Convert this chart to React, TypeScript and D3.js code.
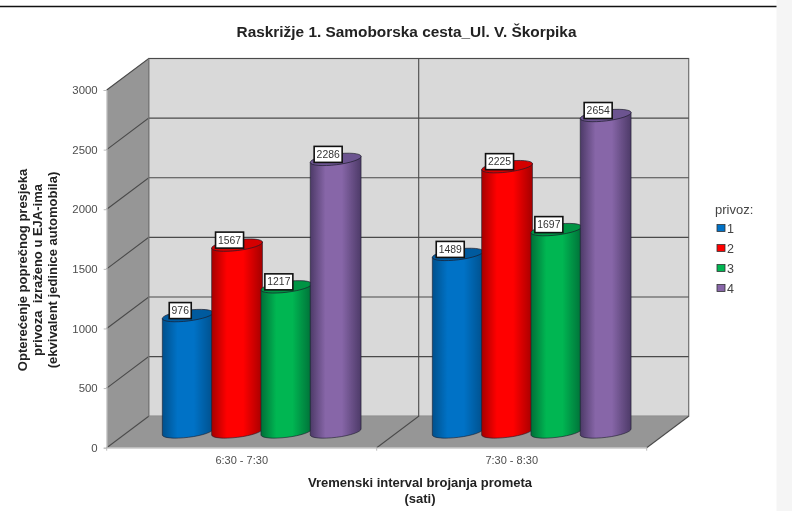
import React, { useEffect, useRef } from "react";
import * as d3 from "d3";

const categories = ["6:30 - 7:30", "7:30 - 8:30"];
const seriesNames = ["1", "2", "3", "4"];
const values1 = [976, 1489];
const values2 = [1567, 2225];
const values3 = [1217, 1697];
const values4 = [2286, 2654];
const allValues = [values1, values2, values3, values4];
const yTicks = [0, 500, 1000, 1500, 2000, 2500, 3000];
const yTitleLines = [
  "Opterećenje poprečnog presjeka",
  "privoza  izraženo u EJA-ima",
  "(ekvivalent jedinice automobila)",
];
const xTitleLines = ["Vremenski interval brojanja prometa", "(sati)"];
const title = "Raskrižje 1. Samoborska cesta_Ul. V. Škorpika";

const sideColors = ["#00508c", "#a50000", "#006f38", "#4d3a68"];
const midColors = ["#0072c6", "#ff0000", "#00b652", "#8766a8"];
const topColors = ["#005a9e", "#d40000", "#009444", "#6c5490"];

const FONT = "'Liberation Sans', Arial, sans-serif";

const App: React.FC = () => {
  const ref = useRef<SVGSVGElement>(null);

  useEffect(() => {
    if (!ref.current) return;
    const svg = d3.select(ref.current);
    svg.selectAll("*").remove();

    // 3d box: front plane plus a fixed depth offset to the back wall
    const depthX = 42;
    const depthY = -31.5;
    const left = 106.7;
    const right = 646.7;

    const y = d3.scaleLinear().domain([0, 3000]).range([447.7, 90]);
    const x0 = d3.scaleBand().domain(categories).range([left, right]);
    const x1 = d3
      .scaleBand()
      .domain(seriesNames)
      .range([0, x0.bandwidth()])
      .paddingInner(0)
      .paddingOuter(0.738);

    const rows = categories.flatMap((c, ci) =>
      seriesNames.map((s, si) => ({ cat: c, series: s, si, value: allValues[si][ci] }))
    );

    svg.append("rect").attr("x", 776.5).attr("y", 0).attr("width", 16).attr("height", 511).attr("fill", "#f5f5f5");
    svg.append("line").attr("x1", 0).attr("x2", 776.5).attr("y1", 6.5).attr("y2", 6.5).attr("stroke", "#111").attr("stroke-width", 1.3);

    const defs = svg.append("defs");
    seriesNames.forEach((s, i) => {
      const g = defs.append("linearGradient").attr("id", `cyl${s}`).attr("x1", 0).attr("x2", 1).attr("y1", 0).attr("y2", 0);
      g.append("stop").attr("offset", "0%").attr("stop-color", sideColors[i]);
      g.append("stop").attr("offset", "30%").attr("stop-color", midColors[i]);
      g.append("stop").attr("offset", "62%").attr("stop-color", midColors[i]);
      g.append("stop").attr("offset", "100%").attr("stop-color", sideColors[i]);
    });

    // walls and floor
    const y0 = y(0);
    const y3 = y(3000);
    svg.append("rect")
      .attr("x", left + depthX).attr("y", y3 + depthY)
      .attr("width", right - left).attr("height", y0 - y3)
      .attr("fill", "#d9d9d9").attr("stroke", "#6e6e6e").attr("stroke-width", 1.2);
    svg.append("path")
      .attr("d", `M${left},${y0}L${left},${y3}L${left + depthX},${y3 + depthY}L${left + depthX},${y0 + depthY}Z`)
      .attr("fill", "#969696");
    svg.append("path")
      .attr("d", `M${left},${y0}L${left + depthX},${y0 + depthY}L${right + depthX},${y0 + depthY}L${right},${y0}Z`)
      .attr("fill", "#969696");

    // gridlines run along the side wall and back wall
    const grid = svg.append("g").attr("fill", "none").attr("stroke", "#4a4a4a").attr("stroke-width", 1.1);
    yTicks.forEach((t) => {
      const py = y(t);
      grid.append("path").attr(
        "d",
        t === 0
          ? `M${left},${py}L${left + depthX},${py + depthY}`
          : `M${left},${py}L${left + depthX},${py + depthY}L${right + depthX},${py + depthY}`
      );
    });
    grid.append("path").attr("d", `M${left + depthX},${y3 + depthY}V${y0 + depthY}`).attr("stroke", "#777");
    const midX = x0(categories[1]) || 0;
    grid.append("path").attr("d", `M${midX},${y0}L${midX + depthX},${y0 + depthY}V${y3 + depthY}`);
    grid.append("path").attr("d", `M${right},${y0}L${right + depthX},${y0 + depthY}`);

    // axes, front plane
    const axisY = svg.append("g").attr("transform", `translate(${left},0)`).call(
      d3.axisLeft(y).tickValues(yTicks).tickSize(3).tickPadding(6).tickFormat(d3.format("d") as any)
    );
    axisY.select(".domain").attr("stroke", "#bcbcbc");
    axisY.selectAll("line").attr("stroke", "#bcbcbc");
    axisY.selectAll("text").attr("font-family", FONT).attr("font-size", 11.4).attr("fill", "#4d4d4d");

    const axisX = svg.append("g").attr("transform", `translate(0,${y0})`).call(
      d3.axisBottom(x0).tickSize(0).tickPadding(9)
    );
    axisX.select(".domain").attr("stroke", "#c8c8c8").attr("stroke-width", 1.2);
    axisX.selectAll("text").attr("font-family", FONT).attr("font-size", 11).attr("fill", "#4d4d4d");
    [left, midX, right].forEach((tx) => {
      svg.append("line").attr("x1", tx).attr("x2", tx).attr("y1", y0).attr("y2", y0 + 3).attr("stroke", "#bcbcbc");
    });

    // cylinders stand at mid depth
    const rx = 25.6;
    const ry = 5.4;
    const tilt = 7;
    const ex = rx * Math.cos((tilt * Math.PI) / 180);
    const ey = rx * Math.sin((tilt * Math.PI) / 180);
    const cx = (d: (typeof rows)[number]) =>
      (x0(d.cat) || 0) + (x1(d.series) || 0) + x1.bandwidth() / 2 + depthX / 2 - 1;
    const base = (v: number) => y(v) + depthY / 2;

    const bars = svg.selectAll("g.cyl").data(rows).enter().append("g").attr("class", "cyl");
    bars.append("path")
      .attr("d", (d) => {
        const c = cx(d);
        const t = base(d.value);
        const b = base(0);
        return `M${c - ex},${t + ey}L${c + ex},${t - ey}L${c + ex},${b - ey}A${rx},${ry} ${-tilt} 0 1 ${c - ex},${b + ey}Z`;
      })
      .attr("fill", (d) => `url(#cyl${d.series})`)
      .attr("stroke", "#1c1c2a")
      .attr("stroke-opacity", 0.65)
      .attr("stroke-width", 0.9);
    bars.append("ellipse")
      .attr("rx", rx)
      .attr("ry", ry)
      .attr("transform", (d) => `translate(${cx(d)},${base(d.value)}) rotate(${-tilt})`)
      .attr("fill", (d) => topColors[d.si])
      .attr("stroke", "#1c1c2a")
      .attr("stroke-opacity", 0.75)
      .attr("stroke-width", 0.9);

    // value labels
    const labels = svg.selectAll("g.lab").data(rows).enter().append("g").attr("class", "lab")
      .attr("transform", (d) => `translate(${cx(d) - 7.5},${base(d.value) - 5})`);
    const boxW = (d: (typeof rows)[number]) => (String(d.value).length > 3 ? 28 : 22);
    labels.append("rect")
      .attr("x", (d) => -boxW(d) / 2).attr("y", -8)
      .attr("width", boxW).attr("height", 16)
      .attr("fill", "#fff").attr("stroke", "#111").attr("stroke-width", 1.6);
    labels.append("text")
      .attr("text-anchor", "middle").attr("y", 3.6)
      .attr("font-family", FONT).attr("font-size", 10.4).attr("fill", "#333")
      .text((d) => d.value);

    // titles
    svg.append("text")
      .attr("x", 406.5).attr("y", 37).attr("text-anchor", "middle")
      .attr("font-family", FONT).attr("font-size", 15.4).attr("font-weight", "bold").attr("fill", "#222")
      .text(title);

    const yTitle = svg.append("g").attr("transform", "translate(0,270) rotate(-90)")
      .attr("font-family", FONT).attr("font-size", 13).attr("font-weight", "bold").attr("fill", "#222");
    yTitleLines.forEach((line, i) => {
      yTitle.append("text").attr("x", 0).attr("y", 27 + i * 15).attr("text-anchor", "middle")
        .style("white-space", "pre").text(line);
    });

    xTitleLines.forEach((line, i) => {
      svg.append("text")
        .attr("x", 420).attr("y", 487 + i * 15.5).attr("text-anchor", "middle")
        .attr("font-family", FONT).attr("font-size", 13).attr("font-weight", "bold").attr("fill", "#222")
        .text(line);
    });

    // legend
    const legend = svg.append("g").attr("font-family", FONT).attr("fill", "#444");
    legend.append("text").attr("x", 715).attr("y", 214).attr("font-size", 13).text("privoz:");
    const ly = d3.scalePoint().domain(seriesNames).range([228, 288]);
    seriesNames.forEach((s, i) => {
      const py = ly(s) || 0;
      legend.append("rect").attr("x", 717).attr("y", py - 3.5).attr("width", 8).attr("height", 7)
        .attr("fill", midColors[i]).attr("stroke", "#333").attr("stroke-width", 0.8);
      legend.append("text").attr("x", 727).attr("y", py + 4.5).attr("font-size", 12.5).text(s);
    });
  }, []);

  return (
    <svg
      ref={ref}
      width={792}
      height={511}
      style={{ position: "absolute", left: 0, top: 0, background: "#fff", filter: "blur(0.35px)" }}
    />
  );
};

export default App;
